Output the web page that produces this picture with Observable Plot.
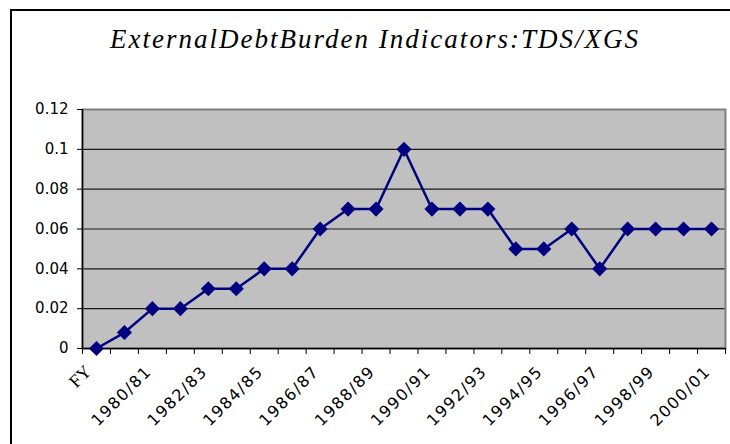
<!DOCTYPE html>
<html><head><meta charset="utf-8">
<script src="https://cdn.jsdelivr.net/npm/d3@7"></script>
<script src="https://cdn.jsdelivr.net/npm/@observablehq/plot@0.6"></script>
<style>
body{margin:0;background:#fff;}
#wrap{position:relative;width:730px;height:444px;overflow:hidden;background:#fff;}
#frame{position:absolute;left:10px;top:9px;width:760px;height:480px;border:2px solid #000;}
#title{position:absolute;left:0;width:750px;top:24px;text-align:center;font:italic 27px "Liberation Serif",serif;white-space:nowrap;color:#000;}
#title span{display:inline-block;}
#chart{position:absolute;left:0;top:0;}
</style></head><body>
<div id="wrap"><div id="frame"></div><div id="title"><span id="tt"></span></div><div id="chart"></div></div>
<script>
const titleText = "ExternalDebtBurden Indicators:TDS/XGS";
const years = ["FY","1979/80","1980/81","1981/82","1982/83","1983/84","1984/85","1985/86","1986/87","1987/88","1988/89","1989/90","1990/91","1991/92","1992/93","1993/94","1994/95","1995/96","1996/97","1997/98","1998/99","1999/00","2000/01"];
const tdsXgs = [0,0.008,0.02,0.02,0.03,0.03,0.04,0.04,0.06,0.07,0.07,0.1,0.07,0.07,0.07,0.05,0.05,0.06,0.04,0.06,0.06,0.06,0.06];
const yTicks = [0,0.02,0.04,0.06,0.08,0.1,0.12];
const gridValues = [0.02,0.04,0.06,0.08,0.1];

// title
const tt = document.getElementById("tt");
tt.textContent = titleText;
const w0 = tt.getBoundingClientRect().width;
tt.style.letterSpacing = ((530 - w0) / titleText.length) + "px";

const data = years.map((c, i) => ({i, c, v: tdsXgs[i]}));
const boundaries = d3.range(0, years.length + 1).map(k => k - 0.5);
const labeled = data.filter(d => d.i % 2 === 0);

const svg = Plot.plot({
  width: 730, height: 444,
  marginLeft: 82, marginRight: 5, marginTop: 109, marginBottom: 96,
  style: {background: "transparent", fontFamily: "DejaVu Sans", fontSize: "15px", color: "#000"},
  x: {type: "linear", domain: [-0.5, years.length - 0.5], axis: null},
  y: {domain: [0, 0.12], axis: null},
  marks: [
    Plot.frame({fill: "#c0c0c0"}),
    Plot.ruleY(gridValues, {stroke: "#1a1a1a", strokeWidth: 1.2}),
    Plot.frame({stroke: "#808080", strokeWidth: 2}),
    Plot.ruleX([-0.5], {stroke: "#000", strokeWidth: 1.5}),
    Plot.ruleY([0], {stroke: "#000", strokeWidth: 1.5}),
    Plot.axisY({ticks: yTicks, label: null, tickSize: 5, tickPadding: 9, tickFormat: d => String(+d.toFixed(2)), fontSize: 15, fill: "#000", stroke: "#000"}),
    Plot.axisX({ticks: boundaries, label: null, tickSize: 6, tickFormat: () => "", stroke: "#000"}),
    Plot.line(data, {x: "i", y: "v", stroke: "#000080", strokeWidth: 2.5}),
    Plot.dot(data, {x: "i", y: "v", symbol: "diamond2", r: 6.8, fill: "#000080", stroke: null}),
    Plot.text(labeled.filter(d => d.i > 0), {x: "i", frameAnchor: "bottom", text: "c", rotate: -45, textAnchor: "end", dy: 24, fontSize: 16, fill: "#000", fontFamily: "DejaVu Sans"}),
    Plot.text(labeled.filter(d => d.i === 0), {x: "i", frameAnchor: "bottom", text: "c", rotate: -45, textAnchor: "end", dy: 24, dx: -4, fontSize: 18, fill: "#000", fontFamily: "Liberation Serif"})
  ]
});
d3.select(svg).selectAll("g[aria-label=text] text").filter(function(){ return this.textContent.includes("/"); }).style("letter-spacing", "1.5px");
document.getElementById("chart").appendChild(svg);
</script>
</body></html>
